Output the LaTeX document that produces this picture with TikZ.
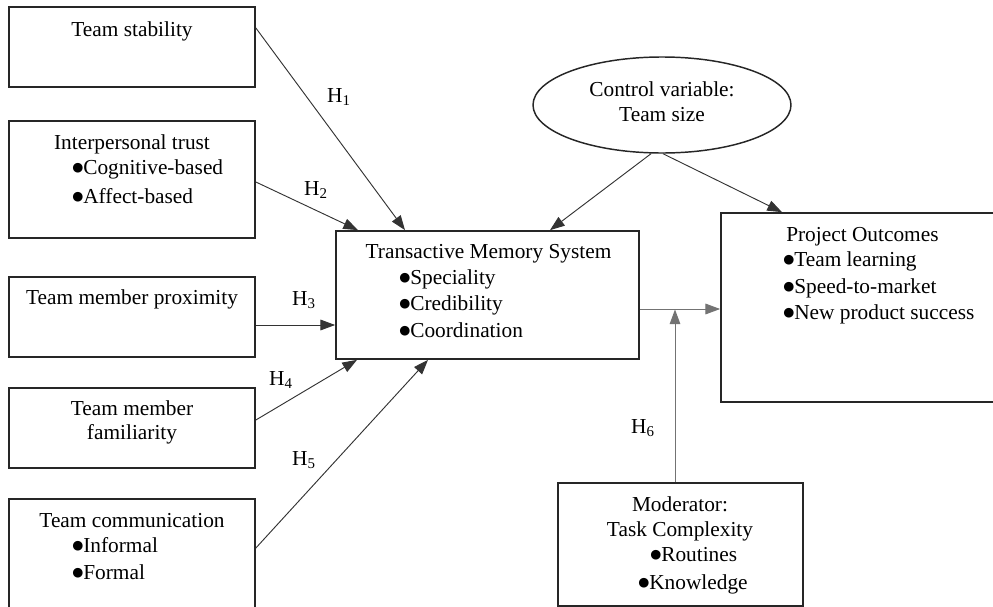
\documentclass[tikz,border=0pt]{standalone}
\usepackage{fontspec}
\setmainfont{Liberation Serif}
\newfontfamily\symfont{DejaVu Sans}
\newcommand\bul{\raisebox{2pt}{\symfont\fontsize{9.5}{9.5}\selectfont ●}}
\usetikzlibrary{arrows.meta,shapes.geometric,calc}
\begin{document}
\begin{tikzpicture}[x=0.75pt,y=-0.75pt,
  box/.style={draw=black!85,line width=1.3pt,rectangle,inner sep=0pt},
  oval/.style={draw=black!85,line width=1.1pt,ellipse,inner sep=0pt},
  txt/.style={inner sep=0pt,font=\fontsize{16}{19}\selectfont},
  arr/.style={draw=black!80,line width=0.7pt,-{Triangle[length=11pt,width=8pt]}},
  garr/.style={draw=black!55,line width=0.7pt,-{Triangle[length=11pt,width=8pt]}}]
\useasboundingbox (0,0) rectangle (993,607);
\clip (0,0) rectangle (993,607);

% boxes
\node[box,minimum width=184.5pt,minimum height=60pt] (stab) at (132,47) {};
\node[box,minimum width=184.5pt,minimum height=87.75pt] (trust) at (132,179.5) {};
\node[box,minimum width=184.5pt,minimum height=60pt] (prox) at (132,317) {};
\node[box,minimum width=184.5pt,minimum height=60pt] (fam) at (132,428) {};
\node[box,minimum width=184.5pt,minimum height=94.5pt] (comm) at (132,562) {};
\node[box,minimum width=227.25pt,minimum height=96pt] (tms) at (487.5,295) {};
\node[box,minimum width=216.75pt,minimum height=141.75pt] (po) at (865.5,307.5) {};
\node[box,minimum width=183.75pt,minimum height=92.25pt] (mod) at (680.5,544.5) {};
\node[oval,minimum width=193.5pt,minimum height=72pt] (ctrl) at (662,105) {};

% texts
\node[txt,anchor=base] (stabT) at (132,36) {Team stability};
\node[txt,anchor=base] (trustT) at (132,149) {Interpersonal trust};
\node[txt,anchor=base west] (trustA) at (72,174) {\bul Cognitive-based};
\node[txt,anchor=base west] (trustB) at (72,203) {\bul Affect-based};
\node[txt,anchor=base] (proxT) at (132,304) {Team member proximity};
\node[txt,anchor=base] (famA) at (132,415) {Team member};
\node[txt,anchor=base] (famB) at (132,439) {familiarity};
\node[txt,anchor=base] (commT) at (132,527) {Team communication};
\node[txt,anchor=base west] (commA) at (72,552) {\bul Informal};
\node[txt,anchor=base west] (commB) at (72,579) {\bul Formal};
\node[txt,anchor=base] (tmsT) at (488.5,258) {Transactive Memory System};
\node[txt,anchor=base west] (tmsA) at (399,284) {\bul Speciality};
\node[txt,anchor=base west] (tmsB) at (399,310) {\bul Credibility};
\node[txt,anchor=base west] (tmsC) at (399,337) {\bul Coordination};
\node[txt,anchor=base] (ctrlA) at (662,96) {Control variable:};
\node[txt,anchor=base] (ctrlB) at (662,121) {Team size};
\node[txt,anchor=base west] (poT) at (786,241) {Project Outcomes};
\node[txt,anchor=base west] (poA) at (783,266) {\bul Team learning};
\node[txt,anchor=base west] (poB) at (783,293) {\bul Speed-to-market};
\node[txt,anchor=base west] (poC) at (783,319) {\bul New product success};
\node[txt,anchor=base] (modA) at (680,511) {Moderator:};
\node[txt,anchor=base] (modB) at (680,536) {Task Complexity};
\node[txt,anchor=base west] (modC) at (650,561) {\bul Routines};
\node[txt,anchor=base west] (modD) at (638,589) {\bul Knowledge};

% labels
\node[txt] (h1) at (339,97) {H\textsubscript{1}};
\node[txt] (h2) at (316,190) {H\textsubscript{2}};
\node[txt] (h3) at (304,300) {H\textsubscript{3}};
\node[txt] (h4) at (281,380) {H\textsubscript{4}};
\node[txt] (h5) at (304,460) {H\textsubscript{5}};
\node[txt] (h6) at (643,428) {H\textsubscript{6}};

% connectors
\draw[arr] ($(stab.east)+(0,-19)$) -- ($(tms.north)+(-82.5,0)$);
\draw[arr] ($(trust.east)+(0,2.5)$) -- ($(tms.north)+(-129.5,0)$);
\draw[arr] ($(prox.east)+(0,8)$) -- ($(tms.west)+(0,30)$);
\draw[arr] ($(fam.east)+(0,-8)$) -- ($(tms.south)+(-130.5,0)$);
\draw[arr] ($(comm.east)+(0,-14)$) -- ($(tms.south)+(-59.5,0)$);
\draw[arr] ($(ctrl.south)+(-11,0)$) -- ($(tms.north)+(62.5,0)$);
\draw[arr] ($(ctrl.south)+(1,0)$) -- ($(po.north)+(-83.5,0)$);
\draw[garr] ($(tms.east)+(0,14)$) -- ($(po.west)+(0,1.5)$);
\coordinate (junc) at (675,309.5);
\draw[garr] ($(mod.north)+(-5.5,0)$) -- (junc);
\end{tikzpicture}
\end{document}
